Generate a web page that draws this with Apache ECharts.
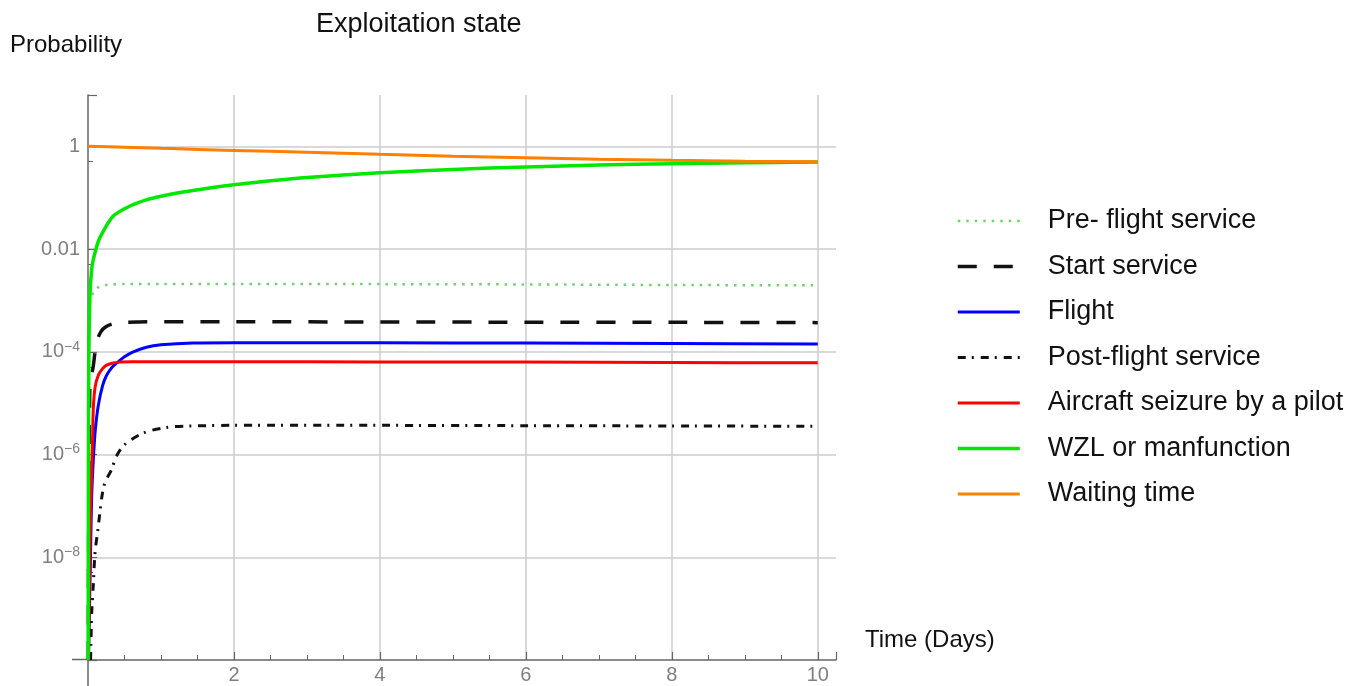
<!DOCTYPE html>
<html><head><meta charset="utf-8">
<script src="https://cdn.jsdelivr.net/npm/echarts@6/dist/echarts.min.js"></script>
<style>html,body{margin:0;padding:0;background:#fff}#c{width:1360px;height:686px}</style>
</head><body><div id="c"></div>
<script>
// ---- Data (time in days, probability) ----
const seriesNames = ['Pre- flight service', 'Start service', 'Flight', 'Post-flight service',
  'Aircraft seizure by a pilot', 'WZL or manfunction', 'Waiting time'];

const preFlight = [[0.002,1e-10],[0.008,1e-6],[0.015,3e-4],[0.027,0.00095],[0.05,0.00125],[0.073,0.0014],
  [0.14,0.0018],[0.25,0.002],[0.5,0.0021],[1,0.0021],[2,0.0021],[4,0.00208],[6,0.00205],[8,0.002],[10,0.00197]];

const startService = [[0.004,1e-10],[0.008,1e-8],[0.014,1e-6],[0.022,1e-5],[0.03,2.6e-5],[0.07,5e-5],
  [0.1,1.1e-4],[0.12,1.6e-4],[0.18,2.5e-4],[0.25,3.1e-4],[0.35,3.55e-4],[0.5,3.75e-4],[0.7,3.82e-4],
  [1,3.85e-4],[2,3.85e-4],[4,3.8e-4],[6,3.78e-4],[8,3.75e-4],[10,3.7e-4]];

const flight = [[0.007,1e-10],[0.02,1e-9],[0.034,1e-8],[0.05,1.5e-7],[0.073,8e-7],[0.1,3e-6],[0.141,9e-6],
  [0.2,2.2e-5],[0.255,3.5e-5],[0.33,5e-5],[0.415,6.4e-5],[0.5,8e-5],[0.62,1e-4],[0.8,1.23e-4],[1,1.37e-4],
  [1.44,1.48e-4],[2,1.5e-4],[4,1.5e-4],[6,1.48e-4],[8,1.45e-4],[10,1.42e-4]];

const postFlight = [[0.035,1e-10],[0.04,2e-10],[0.05,8e-10],[0.073,3e-9],[0.096,1.2e-8],[0.14,3.9e-8],
  [0.19,1.5e-7],[0.23,2.8e-7],[0.32,5e-7],[0.39,9.3e-7],[0.51,1.6e-6],[0.78,2.7e-6],[1.1,3.4e-6],
  [1.44,3.6e-6],[2,3.7e-6],[4,3.7e-6],[6,3.65e-6],[8,3.6e-6],[10,3.55e-6]];

const seizure = [[0.005,1e-10],[0.015,1e-9],[0.03,3e-8],[0.05,5e-7],[0.064,2.5e-6],[0.073,8e-6],
  [0.096,2e-5],[0.141,3.5e-5],[0.2,4.7e-5],[0.255,5.5e-5],[0.33,6e-5],[0.415,6.3e-5],[0.6,6.4e-5],
  [1,6.4e-5],[2,6.4e-5],[4,6.35e-5],[6,6.3e-5],[8,6.2e-5],[10,6.1e-5]];

const wzl = [[0.002,1e-10],[0.006,1e-6],[0.012,1e-4],[0.027,0.0013],[0.05,0.004],[0.073,0.0063],
  [0.14,0.014],[0.21,0.0224],[0.35,0.0445],[0.575,0.069],[0.8,0.091],[1,0.107],[1.26,0.126],
  [1.71,0.158],[2,0.179],[2.5,0.213],[3,0.247],[4,0.305],[5,0.355],[6,0.398],[7,0.433],[8,0.46],
  [9,0.481],[10,0.495]];

const waiting = [[0,1],[0.5,0.96],[1,0.915],[1.5,0.873],[2,0.835],[3,0.765],[4,0.70],[5,0.645],
  [6,0.60],[7,0.56],[8,0.535],[9,0.515],[10,0.50]];

const seriesData = [preFlight, startService, flight, postFlight, seizure, wzl, waiting];
const seriesColors = ['#74cf74', '#111111', '#0000ff', '#111111', '#ff0000', '#00e800', '#ff8000'];
const seriesTypes = [[2.5, 6], [19, 17], 'solid', [8, 6, 2, 7], 'solid', 'solid', 'solid'];
const seriesWidths = [2.5, 3.5, 3, 3, 3, 3.5, 3];

const chart = echarts.init(document.getElementById('c'), null, {renderer: 'canvas'});

function yFmt(v) {
  const e = Math.round(Math.log10(v));
  if (e === 0) return '1';
  if (e === -2) return '0.01';
  return '{b|10}{s|\u2212' + (-e) + '}';
}

const option = {
  animation: false,
  backgroundColor: '#fff',
  title: [
    {text: 'Exploitation state', left: 316, top: 11, padding: 0,
     textStyle: {fontFamily: 'Liberation Sans', fontSize: 27, fontWeight: 'normal', color: '#111'}},
    {text: 'Probability', left: 10, top: 33, padding: 0,
     textStyle: {fontFamily: 'Liberation Sans', fontSize: 24, fontWeight: 'normal', color: '#111'}},
    {text: 'Time (Days)', left: 865, top: 628, padding: 0,
     textStyle: {fontFamily: 'Liberation Sans', fontSize: 24, fontWeight: 'normal', color: '#111'}}
  ],
  legend: {
    orient: 'vertical', left: 956, top: 206, padding: 0,
    itemWidth: 62, itemHeight: 14, itemGap: 15.5,
    itemStyle: {opacity: 0, borderWidth: 0},
    lineStyle: {width: 'inherit'},
    textStyle: {fontFamily: 'Liberation Sans', fontSize: 27, lineHeight: 30, color: '#111', padding: [0, 0, 0, 23]},
    data: seriesNames
  },
  grid: {left: 88, right: 524, top: 95, bottom: 26},
  xAxis: {
    type: 'value', min: 0, max: 10.25, interval: 2,
    axisLine: {show: true, lineStyle: {color: '#666', width: 1.5}},
    axisTick: {show: true, inside: true, length: 8, lineStyle: {color: '#666', width: 1.2}},
    minorTick: {show: true, splitNumber: 4, length: 5, lineStyle: {color: '#666', width: 1}},
    axisLabel: {showMinLabel: false, showMaxLabel: false, color: '#808080', fontSize: 20,
      fontFamily: 'Liberation Sans', margin: 5},
    splitLine: {show: true, showMinLine: false, showMaxLine: false, lineStyle: {color: '#cccccc', width: 1.5}}
  },
  yAxis: {
    type: 'log', logBase: 10, min: 1e-10, max: 10, interval: 2,
    axisLine: {show: true, lineStyle: {color: '#666', width: 1.5}},
    axisTick: {show: true, inside: true, length: 9, lineStyle: {color: '#666', width: 1.2}},
    minorTick: {show: true, splitNumber: 2, length: 5, lineStyle: {color: '#666', width: 1}},
    axisLabel: {showMinLabel: false, showMaxLabel: false, color: '#808080', fontSize: 20,
      fontFamily: 'Liberation Sans', margin: 8, formatter: yFmt,
      rich: {
        b: {fontSize: 20, fontFamily: 'Liberation Sans', color: '#808080', lineHeight: 24},
        s: {fontSize: 14, fontFamily: 'Liberation Sans', color: '#808080', verticalAlign: 'top', lineHeight: 14}
      }},
    splitLine: {show: true, showMinLine: false, showMaxLine: false, lineStyle: {color: '#cccccc', width: 1.5}}
  },
  graphic: [
    {type: 'line', shape: {x1: 72, y1: 659.5, x2: 88, y2: 659.5}, style: {stroke: '#666', lineWidth: 1.5}, silent: true},
    {type: 'line', shape: {x1: 88, y1: 660, x2: 88, y2: 686}, style: {stroke: '#666', lineWidth: 1.5}, silent: true}
  ],
  series: seriesNames.map((name, i) => ({
    name: name, type: 'line', data: seriesData[i],
    showSymbol: false, symbol: 'none', smooth: 0.3,
    color: seriesColors[i],
    lineStyle: {color: seriesColors[i], width: seriesWidths[i], type: seriesTypes[i], cap: 'butt'},
    z: 2 + i
  }))
};
chart.setOption(option);
</script>
</body></html>
